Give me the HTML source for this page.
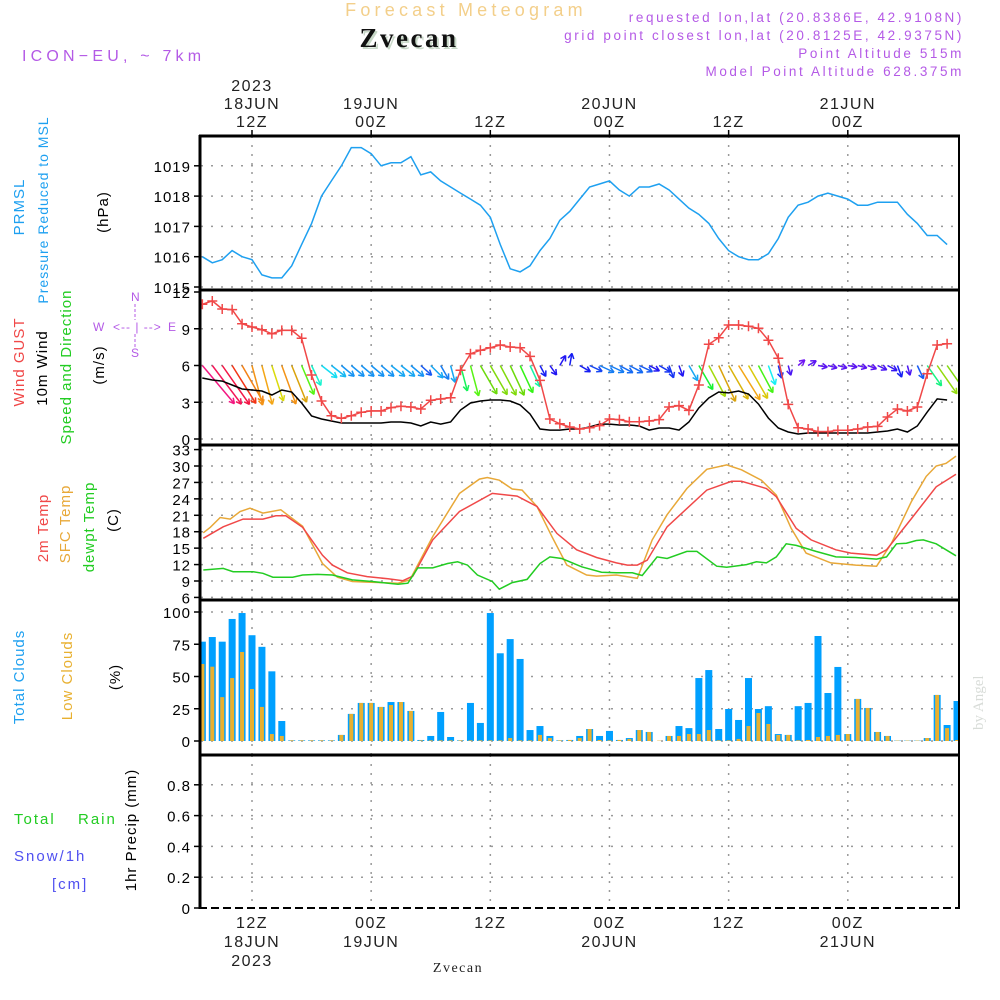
<!DOCTYPE html>
<html><head><meta charset="utf-8"><style>
html,body{margin:0;padding:0;background:#fff;}
svg{display:block;font-family:"Liberation Sans",sans-serif;}
</style></head><body>
<svg id="chart" width="1000" height="1000" viewBox="0 0 1000 1000" xmlns="http://www.w3.org/2000/svg">
<defs>
<clipPath id="cp1"><rect x="201" y="137" width="757" height="152"/></clipPath>
<clipPath id="cp2"><rect x="201" y="291" width="757" height="153"/></clipPath>
<clipPath id="cp3"><rect x="201" y="446" width="757" height="153"/></clipPath>
<clipPath id="cp4"><rect x="201" y="601" width="757" height="153"/></clipPath>
</defs>
<text x="466" y="16" text-anchor="middle" font-size="18" letter-spacing="4.2" fill="#f3cf8a">Forecast Meteogram</text>
<text x="411" y="49" text-anchor="middle" font-size="27" font-weight="bold" font-family="Liberation Serif, serif" fill="#c8d8c8" letter-spacing="2.5">Zvecan</text>
<text x="409" y="47" text-anchor="middle" font-size="27" font-weight="bold" font-family="Liberation Serif, serif" fill="#111" letter-spacing="2.5">Zvecan</text>
<text x="22" y="61" font-size="16" letter-spacing="4.2" fill="#b45ae6">ICON−EU, ~ 7km</text>
<g font-size="13.5" letter-spacing="2.6" fill="#b45ae6" text-anchor="end">
<text x="964" y="22">requested lon,lat (20.8386E, 42.9108N)</text>
<text x="964" y="40">grid point closest lon,lat (20.8125E, 42.9375N)</text>
<text x="964" y="58">Point Altitude 515m</text>
<text x="964" y="76">Model Point Altitude 628.375m</text>
</g>
<text transform="translate(983,730) rotate(-90)" font-size="15" font-family="Liberation Serif, serif" fill="#d8dcd8">by Angel</text>
<g id="grid"></g>
<g id="marks"></g>
<g id="axes"></g>
<g id="labels" font-size="14" letter-spacing="1"></g>
</svg>
<script>
// ---------- data ----------
const startHour = 7; // hours after 18JUN 00Z
const pressure = [1016.0,1015.8,1015.9,1016.2,1016.0,1015.9,1015.4,1015.3,1015.3,1015.7,1016.4,1017.1,1018.0,1018.5,1019.0,1019.6,1019.6,1019.4,1019.0,1019.1,1019.1,1019.3,1018.7,1018.8,1018.5,1018.3,1018.1,1017.9,1017.7,1017.3,1016.4,1015.6,1015.5,1015.7,1016.2,1016.6,1017.2,1017.5,1017.9,1018.3,1018.4,1018.5,1018.2,1018.0,1018.3,1018.3,1018.4,1018.2,1017.9,1017.6,1017.4,1017.1,1016.6,1016.2,1016.0,1015.9,1015.9,1016.1,1016.6,1017.3,1017.7,1017.8,1018.0,1018.1,1018.0,1017.9,1017.7,1017.7,1017.8,1017.8,1017.8,1017.4,1017.1,1016.7,1016.7,1016.4];
const wind10 = [4.98,4.82,4.73,4.41,4.08,4.0,3.92,3.59,4.0,3.84,2.94,1.88,1.63,1.47,1.31,1.31,1.31,1.31,1.31,1.39,1.39,1.31,1.06,1.39,1.22,1.39,2.37,2.94,3.1,3.18,3.18,3.1,2.78,2.04,0.82,0.73,0.73,0.82,0.82,0.98,1.22,1.22,1.14,1.14,1.06,0.73,0.9,0.9,0.73,1.39,2.53,3.35,3.84,3.76,3.92,3.67,2.86,1.71,0.9,0.57,0.41,0.49,0.49,0.49,0.49,0.49,0.49,0.49,0.57,0.65,0.82,0.57,1.06,2.2,3.27,3.18];
const gust = [11.0,11.27,10.61,10.56,9.41,9.14,8.92,8.59,8.87,8.87,8.22,5.22,3.1,1.9,1.69,1.9,2.18,2.29,2.29,2.56,2.67,2.61,2.45,3.16,3.27,3.37,5.61,6.96,7.24,7.45,7.67,7.51,7.45,6.75,4.79,1.63,1.24,0.98,0.82,0.92,1.09,1.63,1.58,1.41,1.41,1.47,1.58,2.61,2.72,2.34,4.41,7.73,8.27,9.31,9.31,9.2,9.04,8.06,6.59,2.83,0.92,0.82,0.6,0.6,0.71,0.71,0.82,0.98,1.03,1.8,2.45,2.29,2.61,5.33,7.67,7.78];
const windDir = [140,143,145,148,150,165,165,162,160,158,157,155,128,128,130,130,130,130,130,128,128,130,132,135,150,165,165,165,150,150,152,155,155,155,152,145,30,10,120,115,115,115,118,118,115,118,120,160,160,150,150,152,155,150,148,150,152,160,165,165,50,60,100,105,105,100,105,110,115,118,160,165,155,145,145,145];
const t2Hours = [7.1,9.1,11.1,13.1,14.4,15.4,17.1,19.1,20.1,21.6,23.6,25.7,27.2,28.2,30.2,32.9,36.2,38.7,40.7,42.7,44.7,46.7,48.7,49.8,50.8,51.8,53.8,57.8,60.3,61.3,63.8,64.8,66.8,68.3,70.8,72.3,74.9,75.9,78.4,80.9,82.9];
const t2Vals = [16.8,18.9,20.3,20.3,20.9,20.9,18.8,13.7,11.9,10.5,9.8,9.4,9.06,9.9,16.5,21.7,25.0,24.5,22.6,17.7,14.7,13.3,12.3,11.9,11.9,12.8,18.9,25.6,27.2,27.2,25.9,24.4,18.6,16.5,14.7,14.1,13.7,14.7,20.4,26.2,28.5];
const sfcHours = [7.1,7.8,8.8,9.8,10.8,11.8,13.1,14.9,17.1,19.1,20.6,22.1,23.6,26.7,27.9,30.2,32.9,34.9,35.7,36.9,38.2,39.2,40.7,42.2,43.7,45.7,46.7,48.7,50.8,52.3,53.8,55.8,57.8,59.8,61.3,63.3,64.8,66.3,67.8,70.3,72.8,74.9,76.4,78.4,79.9,80.9,81.9,82.9];
const sfcVals = [17.8,18.8,20.6,20.3,21.7,22.3,21.4,22.0,19.0,12.2,9.7,8.9,8.8,8.6,9.2,17.1,25.0,27.6,27.9,27.4,25.8,25.6,22.6,17.1,11.9,10.1,9.9,10.1,9.5,16.5,21.1,25.9,29.4,30.2,29.3,27.4,24.7,18.6,14.1,12.3,11.9,11.7,15.9,23.5,28.1,30.0,30.5,31.8];
const dewHours = [7.1,9.1,10.1,12.1,13.1,14.1,16.1,17.1,18.6,20.1,22.1,24.1,26.7,27.7,28.7,30.2,31.7,32.7,33.7,34.7,36.2,36.9,38.2,39.7,41.0,42.0,43.2,45.2,47.2,48.7,50.3,51.3,52.8,53.8,55.8,56.8,58.8,59.8,61.8,62.8,63.8,64.8,65.8,66.8,68.8,70.8,72.8,74.9,75.9,76.9,77.9,78.9,79.6,80.9,82.9];
const dewVals = [11.0,11.3,10.7,10.7,10.4,9.7,9.7,10.1,10.2,10.1,9.2,8.9,8.4,8.6,11.4,11.4,12.2,12.5,11.9,10.1,8.9,7.5,8.7,9.3,12.2,13.4,13.1,11.6,10.6,10.5,10.5,10.0,13.4,13.1,14.4,14.4,11.7,11.5,12.0,12.5,12.3,13.4,15.8,15.5,14.4,13.4,13.3,13.0,13.4,15.8,15.9,16.4,16.5,15.8,13.6];
const totalClouds = [77,80.6,77,94.6,99.2,82,73,54,15.5,0.5,0.5,0.5,0.5,0.5,4.7,21,29.5,29.5,26.4,30.2,30.2,23.3,0.8,3.9,22.5,3.1,0.5,29.5,14,99.2,68,79,63.6,8.5,11.6,3.9,0.5,0.8,3.9,9.3,3.9,7.8,0.8,2.3,8.5,7,0,3.9,11.6,10,48.8,55,9.3,24.8,16.3,48.8,24.8,27,5.4,4.7,27,29.5,81.4,37.2,57.4,5.4,32.6,25.6,7,3.9,0.3,0.3,0.3,2.3,35.7,12.4,31];
const lowClouds = [59.7,57.6,34,48.8,69,40.3,26.4,5.4,3.9,0.5,0.5,0.5,0.5,0.5,4.7,21,29.5,29.5,26.4,27.9,30.2,23.3,0.5,0.5,0.5,0.5,0.5,0.5,0.5,0.5,0.5,2.3,0.5,0.5,4.7,2.3,0.5,0.8,2.3,9.3,0.8,0.5,0.8,1.6,8.5,7,0.3,3.9,3.9,5.4,5.4,8.5,0.5,0.5,1.6,11.6,21.7,13.2,4.7,4.7,0.5,0.8,3.1,3.9,4.7,5.4,32.6,25.6,7,3.9,0.3,0.3,0.3,2.3,35.7,10,0.8];
const precip = [];
const pressTicks = [1015,1016,1017,1018,1019];
const windTicks = [0,3,6,9,12];
const tempTicks = [6,9,12,15,18,21,24,27,30,33];
const cloudTicks = [0,25,50,75,100];
const precipTicks = [0,0.2,0.4,0.6,0.8];
const precipTickLabels = ["0","0.2","0.4","0.6","0.8"];
const timeTicks = [12,24,36,48,60,72];
const timeTop1 = ["2023","","","","",""];
const timeTopDate = ["18JUN","19JUN","","20JUN","","21JUN"];
const timeTopZ = ["12Z","00Z","12Z","00Z","12Z","00Z"];
const timeBotDate = ["18JUN","19JUN","","20JUN","","21JUN"];
const timeBot3 = ["2023","","","","",""];

// ---------- scales ----------
const X = h => 252 + (h - 12) * 9.93;
const Yp = v => 287 - (v - 1015) * 30.3;
const Yw = v => 439 - v * 12.25;
const Yt = v => 581 - (v - 9) * 5.476;
const Yc = v => 741 - v * 1.29;
const Yr = v => 908 - v * 154;

const NS = "http://www.w3.org/2000/svg";
function mk(tag, attrs, parent) {
  const e = document.createElementNS(NS, tag);
  for (const k in attrs) e.setAttribute(k, attrs[k]);
  parent.appendChild(e);
  return e;
}
const grid = document.getElementById('grid');
const marks = document.getElementById('marks');
const axes = document.getElementById('axes');
const labels = document.getElementById('labels');

const panels = [
  {top:136,bot:290,ticks:pressTicks,y:Yp,lab:pressTicks.map(String),name:'pressure'},
  {top:290,bot:445,ticks:windTicks,y:Yw,lab:windTicks.map(String),name:'wind'},
  {top:445,bot:600,ticks:tempTicks,y:Yt,lab:tempTicks.map(String),name:'temp'},
  {top:600,bot:755,ticks:cloudTicks,y:Yc,lab:cloudTicks.map(String),name:'cloud'},
  {top:755,bot:908,ticks:precipTicks,y:Yr,lab:precipTickLabels,name:'precip'}
];
panels.forEach(p => {
  timeTicks.forEach(h => {
    const l = mk('line',{x1:X(h),x2:X(h),y1:p.top,y2:p.bot,stroke:'#999','stroke-width':1.5,'stroke-dasharray':'2,7'},grid);
    
    
  });
  p.ticks.forEach((t,i) => {
    const y = p.y(t);
    if (y > p.top + 2 && y < p.bot - 2) {
      const g = mk('line',{x1:201,x2:958,y1:y,y2:y,stroke:'#999','stroke-width':1.5,'stroke-dasharray':'2,8'},grid);
      
      
    }
    const tk = mk('line',{x1:194,x2:200,y1:y,y2:y,stroke:'#000','stroke-width':1.5},axes);
    
    
    const tx = mk('text',{x:191,y:y+6,'text-anchor':'end','font-size':15,fill:'#000'},labels);
    
    
    tx.textContent = p.lab[i];
  });
});

// frame
[136,290,445,600,755].forEach(y => {
  const l = mk('line',{x1:199,x2:960,y1:y,y2:y,stroke:'#000','stroke-width':3},axes);
  
  
});
const bl = mk('line',{x1:199,x2:960,y1:908,y2:908,stroke:'#000','stroke-width':2,'stroke-dasharray':'8,4'},axes);


const la = mk('line',{x1:200,x2:200,y1:135,y2:909,stroke:'#000','stroke-width':3},axes);


const ra = mk('line',{x1:959,x2:959,y1:135,y2:909,stroke:'#000','stroke-width':2},axes);



// time labels
timeTicks.forEach((h,i) => {
  const x = X(h);
  const tt = mk('line',{x1:x,x2:x,y1:130,y2:136,stroke:'#000','stroke-width':1.5},axes);
  
  
  [[timeTop1[i],91],[timeTopDate[i],109],[timeTopZ[i],127]].forEach(([s,y]) => {
    if (!s) return;
    const t = mk('text',{x:x,y:y,'text-anchor':'middle','font-size':16,fill:'#222','letter-spacing':1.5},labels);
    
    
    t.textContent = s;
  });
  [[timeTopZ[i],928],[timeBotDate[i],947],[timeBot3[i],966]].forEach(([s,y]) => {
    if (!s) return;
    const t = mk('text',{x:x,y:y,'text-anchor':'middle','font-size':16,fill:'#222','letter-spacing':1.5},labels);
    
    
    t.textContent = s;
  });
});
const bz = mk('text',{x:458,y:972,'text-anchor':'middle','font-size':14,'font-family':'Liberation Serif, serif',fill:'#222','letter-spacing':1.5},labels);


bz.textContent = 'Zvecan';

// helper path
function linePath(hs, vs, yf) {
  return hs.map((h,i) => (i ? 'L' : 'M') + X(h).toFixed(1) + ',' + yf(vs[i]).toFixed(1)).join(' ');
}
const hourly = pressure.map((_,i) => startHour + i);

// pressure
const pg = mk('g',{'clip-path':'url(#cp1)'},marks);
const pl = mk('path',{d:linePath(hourly,pressure,Yp),fill:'none',stroke:'#1ea0f0','stroke-width':1.5},pg);



// wind
const wg = mk('g',{'clip-path':'url(#cp2)'},marks);
windDir.forEach((d,i) => {
  const s = wind10[i];
  const x0 = X(hourly[i]), y0 = Yw(6);
  const L = 5 + 9 * s;
  const r = d * Math.PI / 180;
  const x1 = x0 + L * Math.sin(r), y1 = y0 - L * Math.cos(r);
  let hue = 290 - 64 * s; if (hue < 0) hue += 360;
  const col = 'hsl(' + hue.toFixed(0) + ',90%,' + (hue > 40 && hue < 100 ? 45 : 52) + '%)';
  const ar = mk('g',{stroke:col,'stroke-width':1.5,fill:'none'},wg);
  
  
  mk('line',{x1:x0,y1:y0,x2:x1,y2:y1},ar);
  const hl = 6;
  [r + Math.PI - 0.5, r + Math.PI + 0.5].forEach(a => {
    mk('line',{x1:x1,y1:y1,x2:x1 + hl*Math.sin(a),y2:y1 - hl*Math.cos(a)},ar);
  });
});
const wl = mk('path',{d:linePath(hourly,wind10,Yw),fill:'none',stroke:'#000','stroke-width':1.5},wg);


const gl = mk('path',{d:linePath(hourly,gust,Yw),fill:'none',stroke:'#f04848','stroke-width':1.5},wg);


gust.forEach((v,i) => {
  const x = X(hourly[i]), y = Yw(v);
  const m = mk('path',{d:`M${x-5},${y}H${x+5}M${x},${y-5}V${y+5}`,stroke:'#f04848','stroke-width':1.5},wg);
  
  
});

// temps
const tg = mk('g',{'clip-path':'url(#cp3)'},marks);
const sl = mk('path',{d:linePath(sfcHours,sfcVals,Yt),fill:'none',stroke:'#e8a838','stroke-width':1.5},tg);


const tl = mk('path',{d:linePath(t2Hours,t2Vals,Yt),fill:'none',stroke:'#f04848','stroke-width':1.5},tg);


const dl = mk('path',{d:linePath(dewHours,dewVals,Yt),fill:'none',stroke:'#22cc22','stroke-width':1.5},tg);



// clouds
const cg = mk('g',{'clip-path':'url(#cp4)'},marks);
totalClouds.forEach((v,i) => {
  const x = X(startHour + i);
  const b = mk('rect',{x:x-3.5,y:Yc(v),width:7,height:Math.max(0,Yc(0)-Yc(v)),fill:'#00a0ff'},cg);
  
  
});
lowClouds.forEach((v,i) => {
  const x = X(startHour + i);
  const b = mk('rect',{x:x-2,y:Yc(v),width:4,height:Math.max(0,Yc(0)-Yc(v)),fill:'#e8b030'},cg);
  
  
});
precip.forEach((v,i) => {
  const x = X(startHour + i);
  const b = mk('rect',{x:x-3.5,y:Yr(v),width:7,height:Yr(0)-Yr(v),fill:'#22cc22'},marks);
  
  
});

// left labels (rotated)
function vtext(name, s, x, y, col, size) {
  const t = mk('text',{transform:`translate(${x},${y}) rotate(-90)`,'text-anchor':'middle','font-size':size||15,fill:col},labels);
  
  
  t.textContent = s;
}
vtext('pressure-label','PRMSL',24,207,'#1ea0f0');
vtext('pressure-label-2','Pressure Reduced to MSL',48,210,'#1ea0f0',14);
vtext('pressure-unit','(hPa)',108,212,'#000');
vtext('gust-label','Wind GUST',24,362,'#f04848');
vtext('wind-label','10m Wind',47,368,'#000');
vtext('wind-dir-label','Speed and Direction',71,367,'#22cc22');
vtext('wind-unit','(m/s)',104,365,'#000');
vtext('temp-2m-label','2m Temp',48,528,'#f04848');
vtext('temp-sfc-label','SFC Temp',70,524,'#e8a838');
vtext('dewpt-label','dewpt Temp',94,527,'#22cc22');
vtext('temp-unit','(C)',118,520,'#000');
vtext('total-cloud-label','Total Clouds',24,677,'#1ea0f0');
vtext('low-cloud-label','Low Clouds',72,676,'#e8b030');
vtext('cloud-unit','(%)',120,677,'#000');
vtext('precip-unit','1hr Precip (mm)',136,830,'#000');
[['rain-label-total','Total',14,824,'#22cc22'],['rain-label-rain','Rain',78,824,'#22cc22'],['snow-label','Snow/1h',14,861,'#5050f0'],['snow-unit','[cm]',52,889,'#5050f0']].forEach(([n,s,x,y,c]) => {
  const t = mk('text',{x:x,y:y,'font-size':15,fill:c,'letter-spacing':2},labels);
  
  
  t.textContent = s;
});
// compass
const cp = mk('g',{fill:'#b45ae6','font-size':12},labels);


[['W',93,331],['<-- | -->',113,331],['E',168,331],['N',131,301],['S',131,357]].forEach(([s,x,y]) => {
  const t = mk('text',{x:x,y:y},cp); t.textContent = s;
});
mk('line',{x1:135,x2:135,y1:304,y2:320,stroke:'#b45ae6','stroke-dasharray':'3,2'},cp);
mk('line',{x1:135,x2:135,y1:334,y2:348,stroke:'#b45ae6','stroke-dasharray':'3,2'},cp);
</script>
</body></html>
